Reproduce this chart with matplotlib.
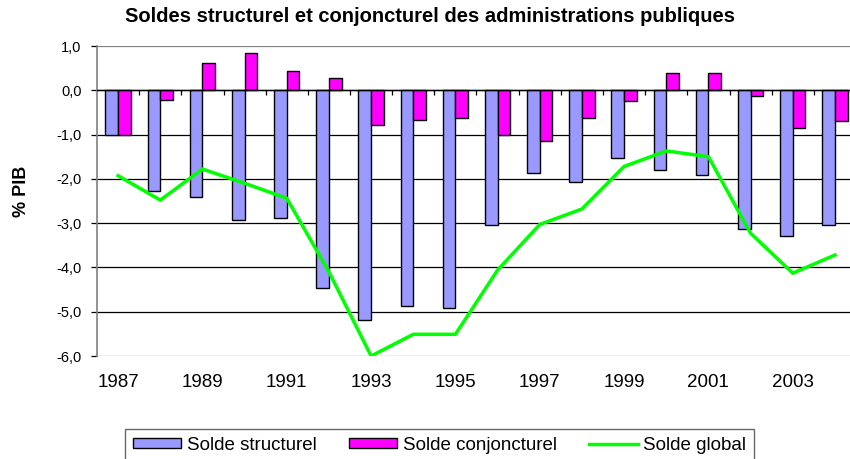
import matplotlib
matplotlib.use("Agg")
import matplotlib.pyplot as plt
import numpy as np

plt.rcParams['font.family'] = ['Liberation Sans', 'DejaVu Sans']

years = list(range(1987, 2005))
solde_structurel = [-1.0, -2.27, -2.40, -2.92, -2.88, -4.46, -5.19, -4.87, -4.91,
                    -3.04, -1.87, -2.07, -1.54, -1.79, -1.91, -3.13, -3.28, -3.05]
solde_conjoncturel = [-1.0, -0.21, 0.61, 0.85, 0.44, 0.28, -0.78, -0.66, -0.62,
                      -1.02, -1.14, -0.62, -0.25, 0.40, 0.40, -0.13, -0.86, -0.69]
solde_global = [-1.93, -2.48, -1.78, -2.10, -2.44, -4.10, -6.0, -5.51, -5.51,
                -4.06, -3.03, -2.68, -1.72, -1.37, -1.50, -3.23, -4.13, -3.72]
y_ticks = [1.0, 0.0, -1.0, -2.0, -3.0, -4.0, -5.0, -6.0]

W, H = 850, 459
fig = plt.figure(figsize=(W / 100, H / 100), dpi=100)
ax = fig.add_axes([97 / W, 1 - 356 / H, (856 - 97) / W, (356 - 46) / H])

x = np.arange(len(years))
bw = 0.3
b1 = ax.bar(x - bw / 2, solde_structurel, bw, color='#9999FF', edgecolor='black',
            linewidth=1.0, zorder=3, label='Solde structurel')
b2 = ax.bar(x + bw / 2, solde_conjoncturel, bw, color='#FF00FF', edgecolor='black',
            linewidth=1.0, zorder=3, label='Solde conjoncturel')
l1, = ax.plot(x, solde_global, color='#00FF00', linewidth=2.5, zorder=4,
              label='Solde global', solid_joinstyle='miter')

ax.set_xlim(-0.5, len(years) - 0.5)
ax.set_ylim(-6, 1)

# gridlines and zero axis with category ticks
for v in y_ticks:
    ax.axhline(v, color='black' if v not in (1.0, -6.0) else '#808080',
               linewidth=0.9, zorder=1)
ax.axhline(0, color='black', linewidth=1.0, zorder=5)
ax.vlines(np.arange(0.5, len(years) - 0.5), -0.11, 0, color='black',
          linewidth=0.9, zorder=5)

for s in ['top', 'right', 'bottom']:
    ax.spines[s].set_visible(False)
ax.spines['left'].set_color('#808080')
ax.spines['left'].set_linewidth(1.2)

ax.set_yticks(y_ticks)
ax.set_yticklabels([('%.1f' % v).replace('.', ',') for v in y_ticks], fontsize=10.5)
ax.tick_params(axis='y', length=4, width=0.9, color='black', pad=7)

ax.set_xticks(x[::2])
ax.set_xticklabels([str(y) for y in years[::2]], fontsize=13.5)
ax.tick_params(axis='x', length=0, pad=13)

fig.text(0.506, 1 - 17 / H, 'Soldes structurel et conjoncturel des administrations publiques',
         ha='center', va='center', fontsize=14.5, fontweight='bold')
fig.text(22 / W, 1 - 191 / H, '% PIB', rotation=90, ha='center', va='center',
         fontsize=13, fontweight='bold')

leg = fig.legend(handles=[b1, b2, l1], loc='upper left',
                 bbox_to_anchor=(125 / W, 1 - 429 / H), ncol=3, fontsize=13.5,
                 frameon=True, fancybox=False, borderaxespad=0,
                 handlelength=2.6, handleheight=0.45, columnspacing=1.7,
                 handletextpad=0.3, borderpad=0.4)
leg.get_frame().set_edgecolor('#404040')
leg.get_frame().set_linewidth(1.0)

fig.savefig('out.png', dpi=100)
